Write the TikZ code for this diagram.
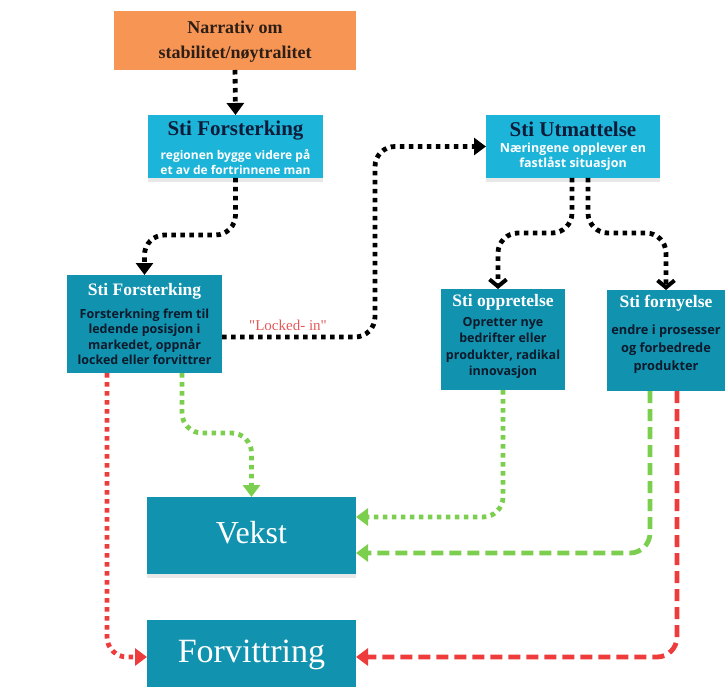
\documentclass[tikz,border=0pt]{standalone}
\usepackage{fontspec}
\setmainfont{Liberation Serif}
\newfontfamily\bodyfont{Open Sans}
\usetikzlibrary{arrows.meta,shadows}

\definecolor{narrorange}{RGB}{247,149,85}
\definecolor{narrtext}{RGB}{45,30,22}
\definecolor{stilight}{RGB}{28,180,216}
\definecolor{stidark}{RGB}{17,147,175}
\definecolor{titlenavy}{RGB}{14,28,58}
\definecolor{textnavy}{RGB}{12,26,44}
\definecolor{growgreen}{RGB}{124,207,78}
\definecolor{decayred}{RGB}{238,59,59}
\definecolor{lockedred}{RGB}{228,88,88}

\begin{document}
\begin{tikzpicture}[x=1pt,y=-1pt,>={Triangle[width=17pt,length=12pt]},
                    line join=round]
  \tikzstyle{box}=[draw=none,inner sep=0pt,outer sep=0pt]
  \tikzstyle{lightbox}=[box,fill=stilight,
                        drop shadow={shadow xshift=0pt,shadow yshift=-4pt,opacity=0.18}]
  \tikzstyle{darkbox}=[box,fill=stidark]
  \tikzstyle{bigtitle}=[font=\bfseries\fontsize{21}{24}\selectfont,text=titlenavy]
  \tikzstyle{smalltitle}=[font=\bfseries\fontsize{17.5}{20}\selectfont,text=white]
  \tikzstyle{boxtext}=[align=center,inner sep=0pt]
  \tikzstyle{outcome}=[font=\fontsize{32}{35}\selectfont,text=white]
  \tikzstyle{blacklink}=[draw=black,line width=4.8pt,dash pattern=on 4.5pt off 4.5pt,
                         rounded corners=20pt]
  \tikzstyle{greendots}=[blacklink,draw=growgreen]
  \tikzstyle{reddots}=[blacklink,draw=decayred]
  \tikzstyle{greendash}=[draw=growgreen,line width=4.8pt,dash pattern=on 12pt off 6pt,
                         rounded corners=20pt]
  \tikzstyle{reddash}=[greendash,draw=decayred]
  \tikzstyle{branch}=[blacklink,-{Straight Barb[length=7pt,width=17pt,line width=4pt]}]

  \useasboundingbox (0,0) rectangle (725,687);

  % boxes
  \node[box,fill=narrorange,minimum width=242pt,minimum height=59pt] (narr) at (235,40.5) {};
  \node[lightbox,minimum width=175pt,minimum height=63pt] (fs1) at (235.5,146.5) {};
  \node[lightbox,minimum width=174pt,minimum height=63pt] (utm) at (573,146.5) {};
  \node[darkbox,minimum width=155pt,minimum height=98pt] (fs2) at (144.5,324) {};
  \node[darkbox,minimum width=124pt,minimum height=101pt] (oppr) at (503,339.5) {};
  \node[darkbox,minimum width=118pt,minimum height=101pt] (forn) at (666,340.5) {};
  \node[darkbox,minimum width=209pt,minimum height=77pt,
        drop shadow={shadow xshift=0pt,shadow yshift=-4pt,opacity=0.18}] (vekst) at (251.5,535.5) {};
  \node[darkbox,minimum width=209pt,minimum height=70pt] (forv) at (251.5,655) {};

  % texts
  \node[boxtext,font=\bfseries\fontsize{18}{25}\selectfont,text=narrtext] (narrtxt) at (235,42)
       {Narrativ om\\stabilitet/nøytralitet};

  \node[bigtitle] (fs1title) at (235.5,131) {Sti Forsterking};
  \node[boxtext,font=\bodyfont\bfseries\fontsize{12}{14.5}\selectfont,text=white] (fs1txt) at (235.5,162)
       {regionen bygge videre på\\et av de fortrinnene man};

  \node[bigtitle] (utmtitle) at (573,129) {Sti Utmattelse};
  \node[boxtext,font=\bodyfont\bfseries\fontsize{12.5}{14.5}\selectfont,text=white] (utmtxt) at (573,157)
       {Næringene opplever en\\fastlåst situasjon};

  \node[smalltitle] (fs2title) at (144.5,291) {Sti Forsterking};
  \node[boxtext,font=\bodyfont\bfseries\fontsize{12.5}{15.5}\selectfont,text=textnavy] (fs2txt) at (144.5,337)
       {Forsterkning frem til\\ledende posisjon i\\markedet, oppnår\\locked eller forvittrer};

  \node[smalltitle] (opprtitle) at (503,302) {Sti oppretelse};
  \node[boxtext,font=\bodyfont\bfseries\fontsize{12.5}{16.3}\selectfont,text=textnavy] (opprtxt) at (503,348)
       {Opretter nye\\bedrifter eller\\produkter, radikal\\innovasjon};

  \node[smalltitle] (forntitle) at (666,303) {Sti fornyelse};
  \node[boxtext,font=\bodyfont\bfseries\fontsize{12.8}{18}\selectfont,text=textnavy] (forntxt) at (666,349.5)
       {endre i prosesser\\og forbedrede\\produkter};

  \node[outcome] (vekstxt) at (251.5,533) {Vekst};
  \node[outcome,font=\fontsize{34}{37}\selectfont] (forvtxt) at (251.5,655) {Forvittring};

  \node[font=\fontsize{15}{18}\selectfont,text=lockedred] (locked) at (288,325)
       {\textquotedbl Locked- in\textquotedbl};

  % connectors
  \draw[blacklink,->] (narr.south) -- (fs1.north);
  \draw[blacklink,->] (fs1.south) -- ++(0,57) -| (fs2.north);
  \draw[blacklink,->] ([yshift=-13pt]fs2.east) -- ++(153,0) |- (utm.west);
  \draw[branch] ([xshift=-1pt]utm.south) -- ++(0,55) -| ([xshift=-5pt]oppr.north);
  \draw[branch] ([xshift=15pt]utm.south) -- ++(0,55) -| (forn.north);

  \draw[greendots,->] ([xshift=37.5pt]fs2.south) -- ++(0,60) -| (vekst.north);
  \draw[reddots,->] ([xshift=-37.5pt]fs2.south) |- ([yshift=-2pt]forv.west);
  \draw[greendots,->] (oppr.south) |- ([yshift=18.5pt]vekst.east);
  \draw[greendash,->] ([xshift=-16pt]forn.south) |- ([yshift=-17.5pt]vekst.east);
  \draw[reddash,->] ([xshift=11pt]forn.south) |- ([yshift=-2pt]forv.east);
\end{tikzpicture}
\end{document}
